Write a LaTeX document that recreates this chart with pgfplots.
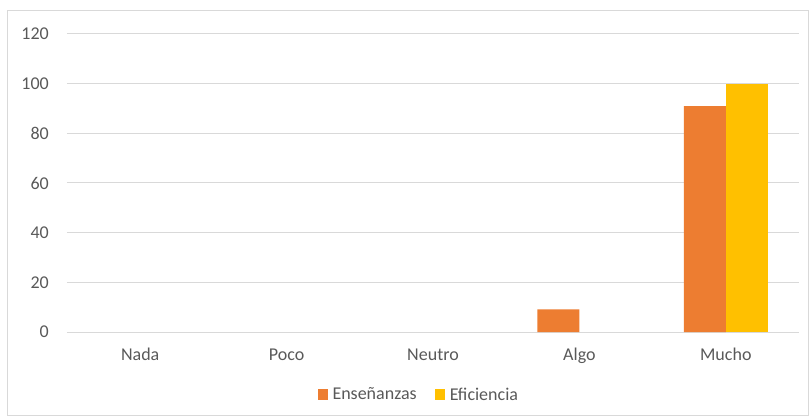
\documentclass[border=0pt]{standalone}
\usepackage{fontspec}
\setmainfont{Carlito}
\usepackage{pgfplots}
\pgfplotsset{compat=1.18}
\definecolor{ens}{HTML}{ED7D31}
\definecolor{efi}{HTML}{FFC000}
\definecolor{txt}{HTML}{595959}
\definecolor{grd}{HTML}{D9D9D9}
\pgfplotsset{sqleg/.style={legend image code/.code={\fill[##1] (0bp,-5.25bp) rectangle (10bp,5.25bp);}}}
\begin{document}
\begin{tikzpicture}
\begin{axis}[
  at={(0,0)}, anchor=south west,
  scale only axis, width=732bp, height=298bp,
  ybar=0pt, bar width=42bp,
  xmin=-0.5, xmax=4.5, ymin=0, ymax=120,
  ytick={0,20,...,120},
  xtick={0,1,2,3,4},
  xticklabels={Nada,Poco,Neutro,Algo,Mucho},
  major tick length=0pt,
  axis line style={draw=none},
  ymajorgrids, grid style={grd, line width=1bp},
  ticklabel style={font=\fontsize{18bp}{22bp}\selectfont, text=txt},
  /pgf/number format/assume math mode=true,
  yticklabel style={anchor=east, inner sep=0pt, xshift=-18bp},
  xticklabel style={anchor=base, inner sep=0pt, yshift=-28.7bp},
  unbounded coords=discard,
  y filter/.expression={y==0 ? nan : y},
  legend columns=2,
  legend style={at={(0.3429,-0.2104)}, anchor=west, draw=none, fill=none,
    inner sep=0pt, outer sep=0pt,
    font=\fontsize{18bp}{22bp}\selectfont, text=txt,
    nodes={inner xsep=4.5bp, inner ysep=0pt},
    /tikz/every even column/.append style={column sep=14bp}},
]
\addplot[fill=ens, draw=none, sqleg]
  coordinates {(0,0) (1,0) (2,0) (3,9.09) (4,90.91)};
\addplot[fill=efi, draw=none, sqleg]
  coordinates {(0,0) (1,0) (2,0) (3,0) (4,100)};
\legend{Enseñanzas, Eficiencia}
\end{axis}
\draw[grd, line width=1bp] (-59bp,-83bp) rectangle (741bp,321bp);
\pgfresetboundingbox
\path[use as bounding box] (-67bp,-85bp) rectangle (742bp,332bp);
\end{tikzpicture}
\end{document}
